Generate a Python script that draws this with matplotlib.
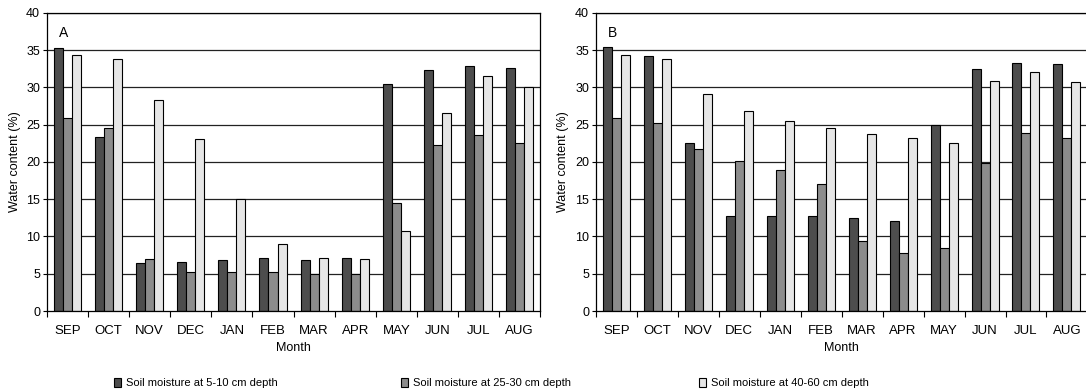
import numpy as np
import matplotlib
matplotlib.use("Agg")
import matplotlib.pyplot as plt
from matplotlib.patches import Patch

plt.rcParams['font.family'] = ['Liberation Sans', 'DejaVu Sans']

months = ['SEP', 'OCT', 'NOV', 'DEC', 'JAN', 'FEB', 'MAR', 'APR', 'MAY', 'JUN', 'JUL', 'AUG']
series_names = ['Soil moisture at 5-10 cm depth',
                'Soil moisture at 25-30 cm depth',
                'Soil moisture at 40-60 cm depth']

# panel A
a_5_10 = [35.3, 23.4, 6.5, 6.6, 6.8, 7.1, 6.8, 7.1, 30.5, 32.3, 32.9, 32.6]
a_25_30 = [25.9, 24.6, 7.0, 5.2, 5.2, 5.3, 4.9, 4.9, 14.5, 22.3, 23.6, 22.6]
a_40_60 = [34.4, 33.8, 28.3, 23.1, 15.0, 9.0, 7.1, 7.0, 10.8, 26.6, 31.5, 30.0]

# panel B
b_5_10 = [35.5, 34.2, 22.6, 12.8, 12.8, 12.8, 12.5, 12.1, 24.9, 32.5, 33.3, 33.1]
b_25_30 = [25.9, 25.3, 21.7, 20.1, 18.9, 17.0, 9.4, 7.8, 8.4, 19.9, 23.9, 23.2]
b_40_60 = [34.4, 33.8, 29.1, 26.9, 25.5, 24.5, 23.8, 23.2, 22.6, 30.9, 32.1, 30.8]

colors = ['#4d4d4d', '#8c8c8c', '#e6e6e6']

fig = plt.figure(figsize=(10.86, 3.91), dpi=100)
ax_a = fig.add_axes([0.0433, 0.2046, 0.4540, 0.7622])
ax_b = fig.add_axes([0.5488, 0.2046, 0.4525, 0.7622])

x = np.arange(len(months))
w = 0.22

for ax, data, label in [(ax_a, [a_5_10, a_25_30, a_40_60], 'A'),
                        (ax_b, [b_5_10, b_25_30, b_40_60], 'B')]:
    for yy in range(5, 41, 5):
        ax.axhline(yy, color='#222222', lw=0.9, zorder=0)
    for i, vals in enumerate(data):
        ax.bar(x + (i - 1) * w, vals, width=w, color=colors[i],
               edgecolor='black', linewidth=0.8, zorder=2)
    ax.set_xlim(-0.5, 11.5)
    ax.set_ylim(0, 40)
    ax.set_yticks(range(0, 41, 5))
    ax.set_xticks(x)
    ax.set_xticklabels(months)
    ax.set_xticks(np.arange(-0.5, 12, 1), minor=True)
    ax.tick_params(axis='x', which='major', length=0, labelsize=9.5, pad=10)
    ax.tick_params(axis='x', which='minor', length=4, direction='out', width=0.8)
    ax.tick_params(axis='y', length=3, width=0.8, labelsize=9, pad=2)
    for s in ax.spines.values():
        s.set_linewidth(0.9)
    ax.set_xlabel('Month', fontsize=9, labelpad=4)
    ax.set_ylabel('Water content (%)', fontsize=9, labelpad=4)
    ax.text(0.025, 0.955, label, transform=ax.transAxes, fontsize=10, va='top')

# one legend entry per position, like the original layout
legend_x = [114 / 1086, 401 / 1086, 699 / 1086]
for c, name, lx in zip(colors, series_names, legend_x):
    h = Patch(facecolor=c, edgecolor='black', linewidth=0.8)
    fig.legend([h], [name], loc='center left', bbox_to_anchor=(lx, 8 / 391),
               frameon=False, fontsize=8, handlelength=0.6, handleheight=0.9,
               handletextpad=0.5, borderpad=0, borderaxespad=0)

fig.savefig('out.png', dpi=100)
